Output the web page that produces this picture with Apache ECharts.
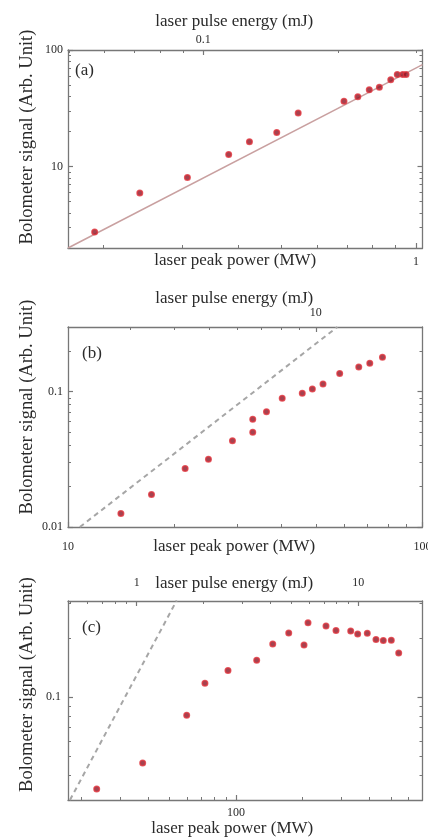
<!DOCTYPE html>
<html>
<head>
<meta charset="utf-8">
<script src="https://cdn.jsdelivr.net/npm/echarts@6/dist/echarts.min.js"></script>
<style>
  html, body { margin: 0; background: #fff; }
  #chart { width: 428px; height: 839px; }
</style>
</head>
<body>
<div id="chart"></div>
<script>
// ---- panel (a) ----
const powerA = [0.191, 0.241, 0.308, 0.381, 0.424, 0.488, 0.545, 0.690, 0.741, 0.786, 0.828, 0.878, 0.908, 0.934, 0.950]
const signalA = [2.74, 5.93, 8.06, 12.7, 16.3, 19.6, 28.8, 36.3, 39.8, 45.6, 48.0, 55.5, 61.6, 61.6, 61.6]
const fitPowerA = [0.1665, 1.034]
const fitSignalA = [2.0, 75]
const powerRangeA = [0.1665, 1.034]
const energyRangeA = [0.0498, 0.3093]
const signalRangeA = [2, 100]

// ---- panel (b) ----
const powerB = [14.1, 17.2, 21.4, 24.9, 29.1, 33.2, 33.2, 36.3, 40.2, 45.8, 48.9, 52.4, 58.4, 66.1, 71.0, 77.1]
const signalB = [0.0126, 0.0174, 0.0271, 0.0316, 0.0434, 0.0500, 0.0625, 0.0711, 0.0894, 0.0973, 0.1047, 0.114, 0.136, 0.152, 0.162, 0.179]
const fitPowerB = [10.8, 57.5]
const fitSignalB = [0.01, 0.3]
const powerRangeB = [10, 100]
const energyRangeB = [2, 20]
const signalRangeB = [0.01, 0.3]

// ---- panel (c) ----
const powerC = [23.5, 37.9, 59.9, 72.4, 92.0, 124, 146.5, 173, 202.8, 211.4, 254.9, 282.8, 329.5, 354.2, 391.5, 428.5, 462.4, 502.5, 542.7]
const signalC = [0.0341, 0.0463, 0.0809, 0.1175, 0.1364, 0.154, 0.1864, 0.212, 0.184, 0.2386, 0.230, 0.218, 0.217, 0.2096, 0.2113, 0.1963, 0.194, 0.1946, 0.1677]
const fitPowerC = [17.8, 54]
const fitSignalC = [0.03, 0.31]
const powerRangeC = [17.44, 695]
const energyRangeC = [0.49, 19.52]
const signalRangeC = [0.03, 0.308]

// ---- ticks / tick labels ----
const powerMajorA = [1], powerMinorA = [0.2, 0.3, 0.4, 0.5, 0.6, 0.7, 0.8, 0.9]
const energyMajorA = [0.1], energyMinorA = [0.05, 0.06, 0.07, 0.08, 0.09, 0.2, 0.3]
const signalMajorA = [10, 100], signalMinorA = [2, 3, 4, 5, 6, 7, 8, 9, 20, 30, 40, 50, 60, 70, 80, 90]
const powerMajorB = [10, 100], powerMinorB = [20, 30, 40, 50, 60, 70, 80, 90]
const energyMajorB = [10], energyMinorB = [3, 4, 5, 6, 7, 8, 9]
const signalMajorB = [0.01, 0.1], signalMinorB = [0.02, 0.03, 0.04, 0.05, 0.06, 0.07, 0.08, 0.09, 0.2, 0.3]
const powerMajorC = [100], powerMinorC = [20, 30, 40, 50, 60, 70, 80, 90, 200, 300, 400, 500, 600]
const energyMajorC = [1, 10], energyMinorC = [0.5, 0.6, 0.7, 0.8, 0.9, 2, 3, 4, 5, 6, 7, 8, 9]
const signalMajorC = [0.1], signalMinorC = [0.03, 0.04, 0.05, 0.06, 0.07, 0.08, 0.09, 0.2, 0.3]

const xTitle = 'laser peak power (MW)'
const topTitle = 'laser pulse energy (mJ)'
const yTitle = 'Bolometer signal (Arb. Unit)'

const font = 'Liberation Serif'
const ink = '#2a2a2a'
const frame = '#777'

function axisPair(grid, pos, range, major, minor, label, name) {
  const base = {
    type: 'log', logBase: 10, gridIndex: grid, position: pos,
    min: range[0], max: range[1], splitLine: { show: false }, silent: true
  }
  const main = Object.assign({}, base, {
    axisLine: { show: true, onZero: false, lineStyle: { color: frame, width: 1.3 } },
    axisTick: { show: true, inside: true, length: 5, customValues: major, lineStyle: { color: frame, width: 1.2 } },
    axisLabel: label
      ? { show: true, customValues: label.values, margin: label.margin, fontFamily: font, fontSize: 12, color: ink }
      : { show: false }
  })
  if (name) {
    Object.assign(main, {
      name: name.text, nameLocation: 'middle', nameGap: name.gap, nameRotate: name.rotate || 0,
      nameMoveOverlap: false,
      nameTextStyle: { fontFamily: font, fontSize: name.size || 17, color: ink, padding: name.padding }
    })
  }
  const sub = Object.assign({}, base, {
    axisLine: { show: false },
    axisTick: { show: true, inside: true, length: 3, customValues: minor, lineStyle: { color: frame, width: 1 } },
    axisLabel: { show: false }
  })
  return [main, sub]
}

const panels = [
  {
    top: 50, height: 198, tag: '(a)',
    power: powerA, signal: signalA, fitX: fitPowerA, fitY: fitSignalA,
    fitStyle: { color: '#c9a0a0', width: 1.5, type: 'solid' },
    x: axisPair(0, 'bottom', powerRangeA, powerMajorA, powerMinorA, { values: [1], margin: 8 },
      { text: xTitle, gap: 4, padding: [0, 20, 0, 0] }),
    t: axisPair(0, 'top', energyRangeA, energyMajorA, energyMinorA, { values: [0.1], margin: 4 },
      { text: topTitle, gap: 20, padding: [0, 22, 0, 0] }),
    l: axisPair(0, 'left', signalRangeA, signalMajorA, signalMinorA, { values: [10, 100], margin: 5 },
      { text: yTitle, gap: 31, rotate: 90, size: 18.5, padding: [0, 0, 0, 24] }),
    r: axisPair(0, 'right', signalRangeA, signalMajorA, signalMinorA, null, null)
  },
  {
    top: 327, height: 200, tag: '(b)',
    power: powerB, signal: signalB, fitX: fitPowerB, fitY: fitSignalB,
    fitStyle: { color: '#a6a6a6', width: 2, type: [5, 4] },
    x: axisPair(1, 'bottom', powerRangeB, powerMajorB, powerMinorB, { values: [10, 100], margin: 14 },
      { text: xTitle, gap: 11, padding: [0, 22, 0, 0] }),
    t: axisPair(1, 'top', energyRangeB, energyMajorB, energyMinorB, { values: [10], margin: 8 },
      { text: topTitle, gap: 20, padding: [0, 22, 0, 0] }),
    l: axisPair(1, 'left', signalRangeB, signalMajorB, signalMinorB, { values: [0.01, 0.1], margin: 5 },
      { text: yTitle, gap: 31, rotate: 90, size: 18.5, padding: [0, 0, 0, 40] }),
    r: axisPair(1, 'right', signalRangeB, signalMajorB, signalMinorB, null, null)
  },
  {
    top: 601, height: 199, tag: '(c)',
    power: powerC, signal: signalC, fitX: fitPowerC, fitY: fitSignalC,
    fitStyle: { color: '#a6a6a6', width: 2, type: [5, 4] },
    x: axisPair(2, 'bottom', powerRangeC, powerMajorC, powerMinorC, { values: [100], margin: 7 },
      { text: xTitle, gap: 20, padding: [0, 26, 0, 0] }),
    t: axisPair(2, 'top', energyRangeC, energyMajorC, energyMinorC, { values: [1, 10], margin: 12 },
      { text: topTitle, gap: 9, padding: [0, 22, 0, 0] }),
    l: axisPair(2, 'left', signalRangeC, signalMajorC, signalMinorC, { values: [0.1], margin: 7 },
      { text: yTitle, gap: 31, rotate: 90, size: 18.5, padding: [0, 0, 0, 32] }),
    r: axisPair(2, 'right', signalRangeC, signalMajorC, signalMinorC, null, null)
  }
]

const grid = [], xAxis = [], yAxis = [], series = [], graphic = []
panels.forEach((p, i) => {
  grid.push({ left: 68, width: 354.5, top: p.top, height: p.height, outerBoundsMode: 'none' })
  xAxis.push(...p.x, ...p.t)
  yAxis.push(...p.l, ...p.r)
  series.push({
    type: 'line', xAxisIndex: 4 * i, yAxisIndex: 4 * i,
    data: p.fitX.map((v, k) => [v, p.fitY[k]]),
    showSymbol: false, silent: true, lineStyle: p.fitStyle, z: 2
  })
  series.push({
    type: 'scatter', xAxisIndex: 4 * i, yAxisIndex: 4 * i,
    data: p.power.map((v, k) => [v, p.signal[k]]),
    symbolSize: 5.5, z: 3,
    itemStyle: { color: '#8e1424', borderColor: '#e0343d', borderWidth: 1.5 }
  })
  graphic.push({
    type: 'text', left: i === 0 ? 75 : 82, top: p.top + (i === 0 ? 12 : 18),
    style: { text: p.tag, font: '17px "Liberation Serif"', fill: ink }
  })
})

const chart = echarts.init(document.getElementById('chart'), null, { renderer: 'canvas' })
chart.setOption({
  animation: false,
  backgroundColor: '#fff',
  grid, xAxis, yAxis, series, graphic
})
</script>
</body>
</html>
